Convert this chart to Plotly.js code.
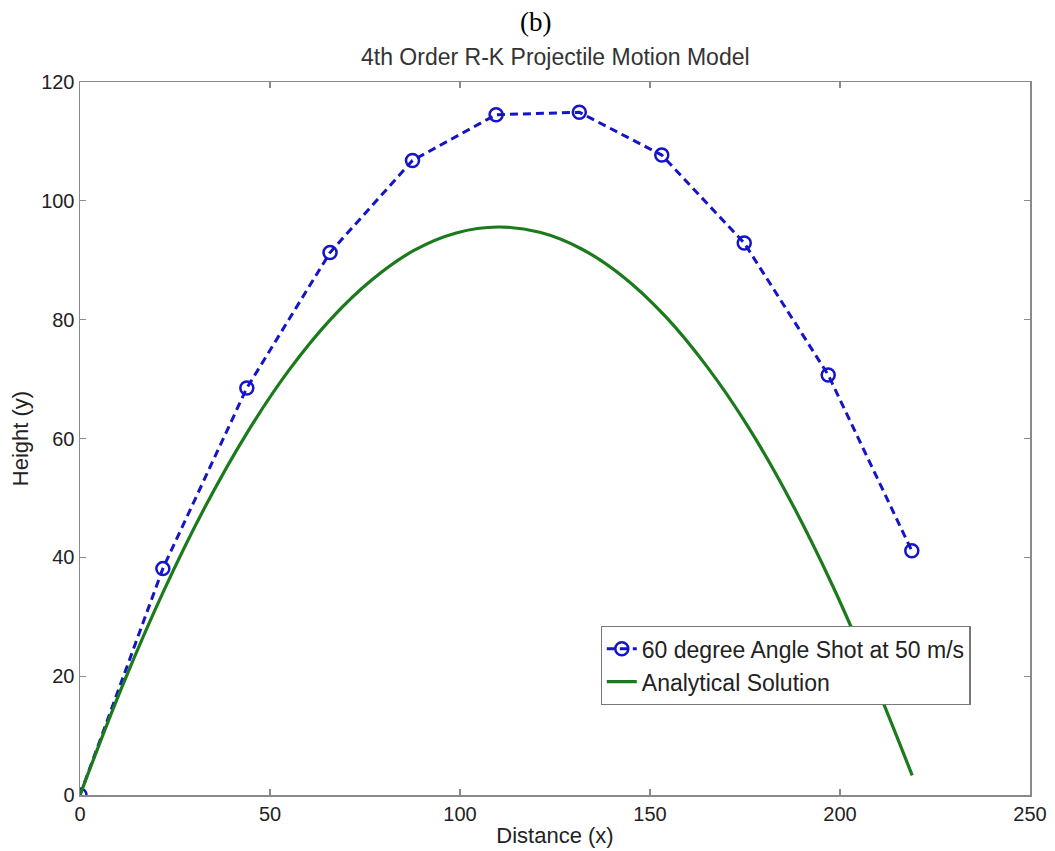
<!DOCTYPE html>
<html>
<head>
<meta charset="utf-8">
<script src="https://cdn.plot.ly/plotly-3.0.1.min.js"></script>
<style>html,body{margin:0;padding:0;background:#fff;}#chart{width:1055px;height:851px;}</style>
</head>
<body>
<div id="chart"></div>
<script>
// RK4 numerical points
const rkX = [0, 21.8, 43.9, 65.8, 87.5, 109.5, 131.4, 153.1, 174.8, 196.9, 218.9];
const rkY = [0, 38.1, 68.5, 91.3, 106.8, 114.5, 114.9, 107.7, 92.9, 70.7, 41.1];
// Analytical solution
const anX = [0, 11, 22, 33, 44, 55, 66, 77, 88, 99, 110, 121, 132, 143, 154, 165, 176, 187, 198, 209, 219];
const anY = [0, 18.1, 34.3, 48.6, 61.0, 71.5, 80.1, 86.8, 91.7, 94.6, 95.6, 94.7, 91.9, 87.2, 80.6, 72.1, 61.8, 49.5, 35.3, 19.2, 3.3];
const xTicks = [0, 50, 100, 150, 200, 250];
const yTicks = [0, 20, 40, 60, 80, 100, 120];
const seriesNames = ["60 degree Angle Shot at 50 m/s", "Analytical Solution"];

const SANS = 'Liberation Sans, Arial, sans-serif';
const traces = [
  {x: rkX, y: rkY, name: seriesNames[0], type: 'scatter', mode: 'lines+markers',
   line: {color: '#1414c8', width: 3, dash: '8px,5px'},
   marker: {symbol: 'circle-open', size: 13, color: '#1414c8', line: {width: 2.5, color: '#1414c8'}}},
  {x: anX, y: anY, name: seriesNames[1], type: 'scatter', mode: 'lines',
   line: {color: '#1b7a1b', width: 3.2, shape: 'spline'}}
];

const axisCommon = {
  showgrid: false, zeroline: false, showline: true, linecolor: '#8a8a8a', linewidth: 1.5,
  mirror: 'ticks', ticks: 'inside', ticklen: 6, tickcolor: '#8a8a8a', tickwidth: 1.2,
  tickfont: {family: SANS, size: 20, color: '#222'}
};

const layout = {
  width: 1055, height: 851,
  margin: {l: 80, r: 25, t: 82, b: 56},
  paper_bgcolor: '#fff', plot_bgcolor: '#fff',
  showlegend: true,
  legend: {x: 0.548, y: 0.237, xanchor: 'left', yanchor: 'top',
    bgcolor: '#fff', bordercolor: '#777', borderwidth: 1.2,
    font: {family: SANS, size: 23, color: '#222'},
    tracegroupgap: 0, itemwidth: 30},
  xaxis: Object.assign({}, axisCommon, {range: [0, 250], tickvals: xTicks, ticktext: xTicks.map(String),
    title: {text: 'Distance (x)', font: {family: SANS, size: 22, color: '#222'}, standoff: 4}}),
  yaxis: Object.assign({}, axisCommon, {range: [0, 120], tickvals: yTicks, ticktext: yTicks.map(String),
    title: {text: 'Height (y)', font: {family: SANS, size: 22, color: '#222'}, standoff: 6}}),
  annotations: [
    {text: '(b)', xref: 'paper', yref: 'paper', x: (535 - 80) / 950, y: 1, yshift: 60, showarrow: false,
     xanchor: 'center', yanchor: 'middle', font: {family: 'Liberation Serif, Times New Roman, serif', size: 27, color: '#000'}},
    {text: '4th Order R-K Projectile Motion Model', xref: 'paper', yref: 'paper', x: 0.5, y: 1, yshift: 25, showarrow: false,
     xanchor: 'center', yanchor: 'middle', font: {family: SANS, size: 23, color: '#333'}}
  ]
};

Plotly.newPlot('chart', traces, layout, {displayModeBar: false, staticPlot: true});
</script>
</body>
</html>
